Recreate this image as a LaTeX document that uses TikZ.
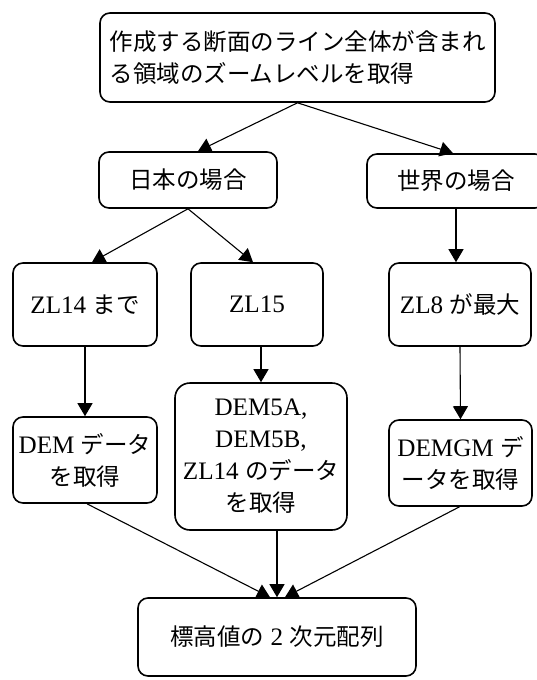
\documentclass[tikz,border=0pt]{standalone}
\usepackage{fontspec}
\setmainfont[Scale=1.07]{Liberation Serif}
\newfontfamily\jp{Noto Sans CJK JP}
\usetikzlibrary{arrows.meta,calc}
\newcommand{\J}[1]{{\jp #1}}
\begin{document}
\begin{tikzpicture}[x=1pt,y=-1pt,
  box/.style={draw,line width=1.6pt,rounded corners=10pt,inner sep=0pt,
    font=\fontsize{23.5}{32}\selectfont,align=center},
  arr/.style={line width=1.1pt,-{Triangle[length=13pt,width=15pt]}}]
\useasboundingbox (0,0) rectangle (537,680);
\clip (0,0) rectangle (537,680);

\node[box,minimum width=395pt,minimum height=89pt,align=left] (top) at (297.5,57.5)
  {\J{作成する断面のライン全体が含まれ}\\\J{る領域のズームレベルを取得}};
\node[box,minimum width=178pt,minimum height=56pt] (nihon) at (188,180) {\J{日本の場合}};
\node[box,minimum width=178pt,minimum height=54pt] (sekai) at (456,181) {\J{世界の場合}};
\node[box,minimum width=144pt,minimum height=83pt] (zl14) at (85,304.5) {ZL14 \J{まで}};
\node[box,minimum width=132pt,minimum height=83pt] (zl15) at (257,304.5) {ZL15};
\node[box,minimum width=142pt,minimum height=83pt] (zl8) at (460,304.5) {ZL8 \J{が最大}};
\node[box,minimum width=144pt,minimum height=86pt] (dem) at (85,460) {DEM \J{データ}\\\J{を取得}};
\node[box,rounded corners=15pt,minimum width=172pt,minimum height=147pt] (dem5a) at (261,456.5)
  {DEM5A,\\DEM5B,\\ZL14 \J{のデータ}\\\J{を取得}};
\node[box,minimum width=143pt,minimum height=86pt] (demgm) at (460.5,463) {DEMGM \J{デ}\\\J{ータを取得}};
\node[box,minimum width=278pt,minimum height=78pt] (bottom) at (277,637) {\J{標高値の} 2 \J{次元配列}};

\draw[arr] (top.south) -- ($(nihon.north)+(10,0)$);
\draw[arr] (top.south) -- ($(sekai.north)+(-3,0)$);
\draw[arr] (nihon.south) -- ($(zl14.north)+(7,0)$);
\draw[arr] (nihon.south) -- ($(zl15.north)+(-4,0)$);
\draw[arr] (sekai.south) -- (sekai.south |- zl8.north);
\draw[arr] (zl14.south) -- (dem.north);
\draw[arr] (dem5a.north |- zl15.south) -- (dem5a.north);
\draw[arr] (zl8.south) -- (demgm.north);
\draw[arr] ($(dem.south)+(2,0)$) -- ($(bottom.north)+(-7,0)$);
\draw[arr] (dem5a.south -| bottom.north) -- (bottom.north);
\draw[arr] ($(demgm.south)+(-1,0)$) -- ($(bottom.north)+(8,0)$);
\end{tikzpicture}
\end{document}
